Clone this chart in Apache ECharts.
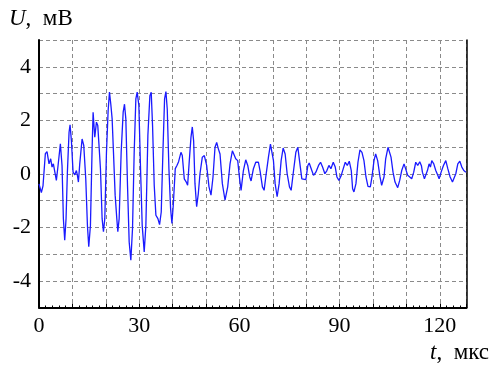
<!DOCTYPE html>
<html>
<head>
<meta charset="utf-8">
<script src="https://cdn.jsdelivr.net/npm/echarts@6/dist/echarts.min.js"></script>
<style>html,body{margin:0;padding:0;background:#fff}#c{width:492px;height:367px}</style>
</head>
<body>
<div id="c"></div>
<script>
var times = [0,0.7,1.2,1.9,2.4,3.0,3.5,3.9,4.3,4.7,5.2,5.7,6.4,6.9,7.3,7.7,8.1,8.5,9.0,9.3,9.7,10.2,10.7,11.2,11.5,11.8,12.2,12.9,13.4,14.0,14.5,14.9,15.4,15.9,16.2,16.7,17.2,17.6,18.0,18.4,18.9,19.3,19.7,20.2,20.7,21.1,21.5,21.9,22.3,22.8,23.3,23.6,24.0,24.6,25.2,25.6,26.0,26.5,27.0,27.5,28.0,28.5,29.0,29.4,29.9,30.4,30.9,31.5,32.0,32.6,33.2,33.6,34.0,34.5,35.0,35.6,36.1,36.6,37.1,37.6,38.0,38.4,38.9,39.4,39.8,40.2,40.8,41.3,41.8,42.5,42.9,43.5,44.1,44.5,45.0,45.5,45.9,46.3,46.7,47.2,47.7,48.2,48.9,49.5,50.2,50.9,51.5,52.1,52.7,53.2,53.7,54.2,54.9,55.7,56.5,57.2,57.9,58.5,58.9,59.5,60.0,60.5,61.2,61.9,62.5,63.1,63.5,64.2,64.9,65.7,66.2,66.9,67.4,67.9,68.7,69.3,69.7,70.2,70.7,71.3,71.9,72.5,73.1,73.7,74.3,75.0,75.5,76.1,76.9,77.5,78.0,78.7,79.2,79.9,80.5,80.9,81.5,82.2,82.9,83.7,84.3,84.9,85.6,86.2,86.8,87.4,88.1,88.7,89.2,89.8,90.5,91.1,91.7,92.3,92.9,93.5,93.9,94.3,94.9,95.5,96.1,96.7,97.3,97.9,98.5,99.2,99.7,100.3,100.8,101.4,102.1,102.6,103.3,103.8,104.5,104.9,105.4,106.0,106.6,107.4,108.0,108.6,109.3,109.8,110.4,111.0,111.6,112.2,112.8,113.4,114.0,114.5,114.8,115.4,115.8,116.3,116.8,117.2,117.6,118.2,118.8,119.4,119.8,120.4,121.1,121.8,122.4,123.1,123.8,124.2,124.8,125.4,126.0,126.6,127.2,127.8];
var voltage = [-0.38,-0.7,-0.45,0.75,0.83,0.37,0.56,0.25,0.37,0.3,-0.25,0.3,1.12,0.3,-1.68,-2.48,-1.68,0.06,1.55,1.83,1.24,0.06,-0.04,0.12,-0.06,-0.31,0.37,1.3,1.06,-0.19,-1.93,-2.73,-1.93,0.93,2.3,1.37,1.93,1.8,1.0,0.19,-1.68,-2.17,-1.68,0.8,2.36,3.05,2.6,2.05,0.8,-0.8,-1.68,-2.17,-1.68,0.8,2.3,2.6,2.05,-0.43,-2.55,-3.23,-2.05,0.8,2.8,3.05,2.55,0.19,-1.93,-2.92,-1.93,1.43,2.92,3.05,1.8,-0.43,-1.55,-1.68,-1.9,-1.43,0.8,2.8,3.07,2.42,0.19,-1.3,-1.86,-1.18,0.19,0.31,0.45,0.8,0.68,-0.19,-0.31,-0.43,0.49,1.36,1.75,1.23,-0.37,-1.23,-0.74,0,0.62,0.68,0.31,-0.49,-0.8,-0.12,0.99,1.17,0.93,0.74,-0.37,-0.99,-0.49,0.37,0.86,0.68,0.56,0.49,-0.12,-0.62,0.12,0.52,0.31,-0.12,-0.27,0.19,0.43,0.43,0.1,-0.49,-0.62,-0.12,0.62,1.11,1.14,0.49,-0.37,-0.86,-0.37,0.49,0.96,0.74,0,-0.49,-0.62,0,0.8,0.99,0.49,-0.19,-0.25,-0.22,0.31,0.4,0.19,-0.06,0.06,0.31,0.43,0.25,0,0.12,0.31,0.19,0.43,0.25,-0.12,-0.25,-0.06,0.19,0.43,0.31,0.47,0.12,-0.56,-0.68,-0.37,0.43,0.89,0.8,0.49,-0.12,-0.47,-0.49,-0.12,0.49,0.74,0.49,-0.12,-0.43,-0.12,0.56,0.99,1.01,0.62,0.06,-0.31,-0.52,-0.25,0.12,0.37,0.31,-0.06,-0.12,-0.19,0.06,0.43,0.31,0.45,0.3,0.06,-0.19,-0.25,0.12,0.37,0.25,0.49,0.37,0.12,-0.06,-0.19,0.06,0.31,0.49,0.19,-0.12,-0.31,-0.37,0,0.37,0.47,0.25,0.12,0.06];
var xLabels = [0, 30, 60, 90, 120];
var yLabels = [-4, -2, 0, 2, 4];

var chart = echarts.init(document.getElementById('c'), null, {renderer: 'canvas'});
var FONT = '"Liberation Serif", "Times New Roman", serif';
var gridStyle = {color: '#8a8a8a', width: 1, type: [4, 3]};
var data = times.map(function (t, i) { return [t, voltage[i]]; });

chart.setOption({
  animation: false,
  backgroundColor: '#fff',
  grid: {left: 39, top: 40, right: 25.5, bottom: 59.5, containLabel: false},
  xAxis: {
    type: 'value', min: 0, max: 128, interval: 10,
    axisLine: {show: true, onZero: false, lineStyle: {color: '#000', width: 2}},
    axisTick: {show: true, inside: true, length: 4, lineStyle: {color: '#000', width: 1}},
    minorTick: {show: true, splitNumber: 5, length: 2, lineStyle: {color: '#000', width: 1}},
    splitLine: {show: true, lineStyle: gridStyle},
    axisLabel: {
      margin: 8, color: '#000', fontFamily: FONT, fontSize: 22,
      formatter: function (v) { return xLabels.indexOf(v) >= 0 ? String(v) : ''; },
      showMaxLabel: false
    }
  },
  yAxis: [{
    type: 'value', min: -5, max: 5, interval: 1,
    axisLine: {show: true, onZero: false, lineStyle: {color: '#000', width: 2}},
    axisTick: {show: false},
    splitLine: {show: true, lineStyle: gridStyle},
    axisLabel: {
      margin: 8, color: '#000', fontFamily: FONT, fontSize: 22,
      formatter: function (v) { return yLabels.indexOf(v) >= 0 ? String(v) : ''; }
    }
  }, {
    type: 'value', min: -5, max: 5, interval: 1, position: 'right',
    axisLine: {show: true, onZero: false, lineStyle: {color: '#000', width: 1.5}},
    axisTick: {show: false}, axisLabel: {show: false}, splitLine: {show: false}
  }],
  graphic: [
    {type: 'text', left: 9, top: 7, style: {
      text: '{i|U},  мВ', fill: '#000', font: '23px ' + FONT,
      rich: {i: {fontStyle: 'italic', fontSize: 23, fontFamily: FONT, fill: '#000'}}
    }},
    {type: 'text', right: 3, top: 341, style: {
      text: '{i|t},  мкс', fill: '#000', font: '23px ' + FONT,
      rich: {i: {fontStyle: 'italic', fontSize: 23, fontFamily: FONT, fill: '#000'}}
    }}
  ],
  series: [{
    type: 'line', data: data, showSymbol: false, smooth: false,
    lineStyle: {color: '#1a1aff', width: 1.3}, z: 3
  }]
});
</script>
</body>
</html>
